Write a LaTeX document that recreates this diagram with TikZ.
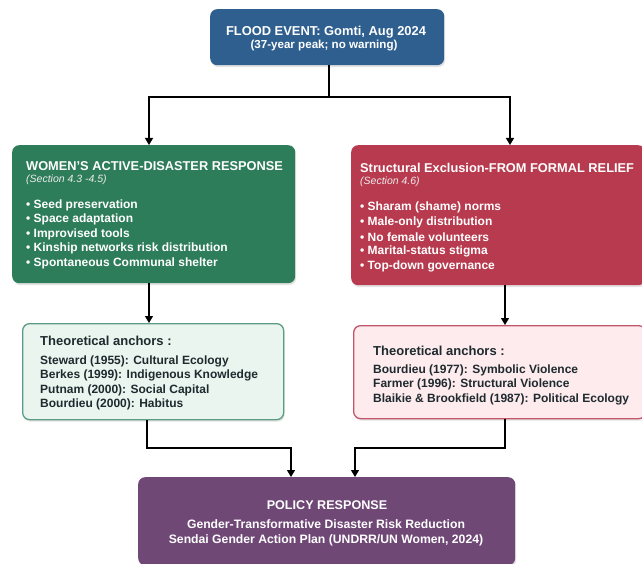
\documentclass[tikz,border=0pt]{standalone}
\usepackage{fontspec}
\setmainfont{Liberation Sans}
\usetikzlibrary{arrows.meta,shadows,calc}
\definecolor{cblue}{HTML}{2F5F8F}
\definecolor{cgreen}{HTML}{2E7D5A}
\definecolor{cred}{HTML}{B83A4E}
\definecolor{lgfill}{HTML}{EAF5EF}
\definecolor{lgdraw}{HTML}{5C9C83}
\definecolor{pkfill}{HTML}{FDEBEE}
\definecolor{pkdraw}{HTML}{C3566B}
\definecolor{cpurple}{HTML}{6F4876}
\definecolor{dtext}{HTML}{1E2A2E}
\tikzset{
  box/.style={rectangle, rounded corners=7pt, anchor=north west, inner sep=0pt,
    drop shadow={opacity=0.22, shadow xshift=1pt, shadow yshift=-2pt}},
  darkbox/.style={box, draw=none},
  lightbox/.style={box, line width=1.3pt},
  ttl/.style={font=\bfseries\fontsize{12.8}{14}\selectfont, text=white, inner sep=0pt},
  sec/.style={font=\itshape\fontsize{10.5}{12}\selectfont, text=white!85!gray, inner sep=0pt, anchor=west},
  bl/.style={font=\bfseries\fontsize{12}{14}\selectfont, text=white, inner sep=0pt, anchor=west},
  dl/.style={font=\bfseries\fontsize{12}{14}\selectfont, text=dtext, inner sep=0pt, anchor=west},
  dt/.style={font=\bfseries\fontsize{13}{14}\selectfont, text=dtext, inner sep=0pt, anchor=west},
  arr/.style={line width=1.3pt, draw=black, -{Triangle[width=8pt,length=7pt]}},
  ln/.style={line width=1.3pt, draw=black},
}
\begin{document}
\begin{tikzpicture}[x=1pt,y=-1pt]
\useasboundingbox (0,0) rectangle (642,564);
\fill[white] (0,0) rectangle (642,564);

% boxes
\node[darkbox, fill=cblue, minimum width=234pt, minimum height=56pt] (flood) at (210,9) {};
\node[darkbox, fill=cgreen, minimum width=283pt, minimum height=138pt] (women) at (12,145) {};
\node[darkbox, fill=cred, minimum width=294pt, minimum height=140pt] (excl) at (351,145) {};
\node[lightbox, fill=lgfill, draw=lgdraw, minimum width=261pt, minimum height=96pt] (ancL) at (22,323) {};
\node[lightbox, fill=pkfill, draw=pkdraw, minimum width=292pt, minimum height=93pt] (ancR) at (353,325) {};
\node[darkbox, fill=cpurple, minimum width=377pt, minimum height=88pt] (policy) at (138,477) {};

% flood text
\node[ttl, font=\bfseries\fontsize{12.9}{14}\selectfont] (f1) at (326,32) {FLOOD EVENT: Gomti, Aug 2024};
\node[ttl, font=\bfseries\fontsize{11.6}{13}\selectfont] (f2) at (324,46) {(37-year peak; no warning)};

% women text
\node[ttl, anchor=west] (w0) at (26,166) {WOMEN'S ACTIVE-DISASTER RESPONSE};
\node[sec] (w00) at (26,180) {(Section 4.3 -4.5)};
\node[bl] (w1) at (26,205) {\textbullet\ Seed preservation};
\node[bl] (w2) at (26,219.5) {\textbullet\ Space adaptation};
\node[bl] (w3) at (26,234) {\textbullet\ Improvised tools};
\node[bl] (w4) at (26,248.5) {\textbullet\ Kinship networks risk distribution};
\node[bl] (w5) at (26,263) {\textbullet\ Spontaneous Communal shelter};

% exclusion text
\node[ttl, anchor=west] (e0) at (360,168) {Structural Exclusion-FROM FORMAL RELIEF};
\node[sec] (e00) at (360,182) {(Section 4.6)};
\node[bl] (e1) at (360,207) {\textbullet\ Sharam (shame) norms};
\node[bl] (e2) at (360,222) {\textbullet\ Male-only distribution};
\node[bl] (e3) at (360,237) {\textbullet\ No female volunteers};
\node[bl] (e4) at (360,251.5) {\textbullet\ Marital-status stigma};
\node[bl] (e5) at (360,266) {\textbullet\ Top-down governance};

% left anchors
\node[dt] (l0) at (40,341) {Theoretical anchors :};
\node[dl] (l1) at (40,361) {Steward (1955): Cultural Ecology};
\node[dl] (l2) at (40,375.5) {Berkes (1999): Indigenous Knowledge};
\node[dl] (l3) at (40,390) {Putnam (2000): Social Capital};
\node[dl] (l4) at (40,404) {Bourdieu (2000): Habitus};

% right anchors
\node[dt] (r0) at (373,351) {Theoretical anchors :};
\node[dl] (r1) at (373,370) {Bourdieu (1977): Symbolic Violence};
\node[dl] (r2) at (373,384.5) {Farmer (1996): Structural Violence};
\node[dl] (r3) at (373,399) {Blaikie \& Brookfield (1987): Political Ecology};

% policy text
\node[ttl, font=\bfseries\fontsize{12.6}{14}\selectfont] (p0) at (327,505) {POLICY RESPONSE};
\node[ttl, font=\bfseries\fontsize{12.2}{14}\selectfont] (p1) at (326,524) {Gender-Transformative Disaster Risk Reduction};
\node[ttl, font=\bfseries\fontsize{12.2}{14}\selectfont] (p2) at (326,540) {Sendai Gender Action Plan (UNDRR/UN Women, 2024)};

% connector coordinates
\coordinate (xg) at (149,0);
\coordinate (xr) at (510,0);
\coordinate (xfl) at (329,0);
\coordinate (ya) at (0,97);
\coordinate (xl2) at (147,0);
\coordinate (xr2) at (505,0);
\coordinate (yb) at (0,448);
\coordinate (xp1) at (291,0);
\coordinate (xp2) at (355,0);

% connectors
\draw[ln] (flood.south -| xfl) -- (ya -| xfl);
\draw[arr] (ya -| xfl) -- (ya -| xg) -- (women.north -| xg);
\draw[arr] (ya -| xfl) -- (ya -| xr) -- (excl.north -| xr);
\draw[arr] (women.south -| xg) -- (ancL.north -| xg);
\draw[arr] (excl.south -| xr2) -- (ancR.north -| xr2);
\draw[arr] (ancL.south -| xl2) -- (yb -| xl2) -- (yb -| xp1) -- (policy.north -| xp1);
\draw[arr] (ancR.south -| xr2) -- (yb -| xr2) -- (yb -| xp2) -- (policy.north -| xp2);
\end{tikzpicture}
\end{document}
